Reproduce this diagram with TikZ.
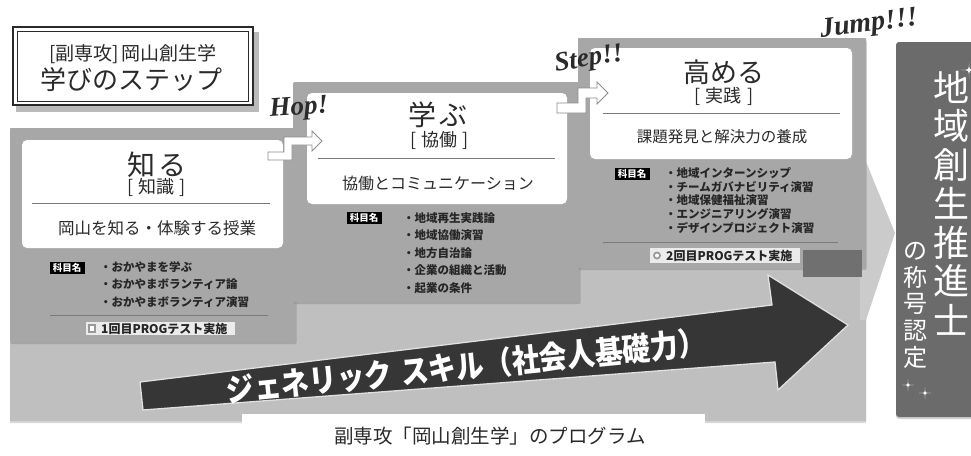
\documentclass[tikz,border=0pt]{standalone}
\usepackage{fontspec}
\usepackage{graphicx}
\usetikzlibrary{shadows}
\newfontfamily\jp{Noto Sans CJK JP}
\newfontfamily\lser{Liberation Serif}
\definecolor{panel}{HTML}{A7A7A7}
\definecolor{bgg}{HTML}{BFBFBF}
\definecolor{chev}{HTML}{CBCBCB}
\definecolor{colm}{HTML}{6B6B6B}
\definecolor{darr}{HTML}{363636}
\definecolor{ink}{HTML}{2A2A2A}
\definecolor{rulec}{HTML}{7A7A7A}
\newcommand{\mysparkle}[3]{\fill[white] (#1,#2-#3) .. controls (#1,#2) .. (#1+#3,#2) .. controls (#1,#2) .. (#1,#2+#3) .. controls (#1,#2) .. (#1-#3,#2) .. controls (#1,#2) .. cycle;}
\newcommand{\brk}[1]{[\hspace{5pt}#1\hspace{5pt}]}
\tikzset{
  panelbox/.style={fill=panel, rounded corners=2pt, drop shadow={shadow xshift=0.6pt, shadow yshift=-2.2pt, opacity=0.4}},
  whitebox/.style={fill=white, rounded corners=5pt},
  seprule/.style={draw=rulec, line width=0.8pt},
  bigtxt/.style={font=\jp\fontsize{#1}{#1}\selectfont},
  itemtxt/.style={font=\jp\bfseries\fontsize{11.5}{11.5}\selectfont, anchor=west, text=black!85},
  kamoku/.style={fill=black, text=white, font=\jp\bfseries\fontsize{9.5}{9.5}\selectfont, minimum width=35pt, minimum height=12pt},
  progbox/.style={fill=black!8},
  progtxt/.style={font=\jp\bfseries\fontsize{12}{12}\selectfont, text=black!85, anchor=west},
  stairarrow/.style={fill=white, draw=black!45, line width=0.9pt, line join=miter},
  shout/.style={font=\lser\bfseries\itshape\fontsize{#1}{#1}\selectfont, text=ink},
  vchar/.style={font=\jp\fontsize{#1}{#1}\selectfont, text=white},
}
\begin{document}
\begin{tikzpicture}[x=1pt,y=-1pt, every node/.style={inner sep=0pt, text=ink}]
\useasboundingbox (0,0) rectangle (971,455);
\fill[white] (0,0) rectangle (971,455);

% background region
\fill[bgg, drop shadow={shadow xshift=0pt, shadow yshift=-2pt, opacity=0.3}] (10,128) -- (295,128) -- (295,82) -- (578,82) -- (578,38) -- (866,38) -- (866,421) -- (10,421) -- cycle;
\fill[chev] (860,147) -- (895,233) -- (866,320) -- (860,320) -- cycle;

% panels
\path[panelbox] (10,128) rectangle (296,342);
\path[panelbox] (293,82) rectangle (580,302);
\path[panelbox] (578,38) rectangle (866,268);

% white boxes
\path[whitebox] (22,140) rectangle (283,248);
\path[whitebox] (307,93) rectangle (567,204);
\path[whitebox] (590,48) rectangle (852,159);

% box 1
\node[bigtxt=28] (k1) at (157,165) {知\hspace{4pt}る};
\node[bigtxt=18] (k1b) at (157,187) {\brk{知識}};
\draw[seprule] (32,203) -- (270,203);
\node[bigtxt=16.5] (k1c) at (157,228) {岡山を知る・体験する授業};
\node[kamoku] (t1) at (67,268) {科目名};
\foreach \t [count=\i from 0] in {おかやまを学ぶ, おかやまボランティア論, おかやまボランティア演習}
  \node[itemtxt] (a\i) at (100,267+17.5*\i) {・\t};
\draw[seprule] (50,315) -- (268,315);
\fill[progbox] (86,322) rectangle (235,335);
\fill[black!40] (88,324) rectangle (96,333);
\fill[white] (90,326) rectangle (94,331);
\node[progtxt] (pg1) at (101,328.5) {1回目PROGテスト実施};

% box 2
\node[bigtxt=28] (k2) at (438,115) {学\hspace{4pt}ぶ};
\node[bigtxt=18] (k2b) at (440,140) {\brk{協働}};
\draw[seprule] (318,158) -- (555,158);
\node[bigtxt=16] (k2c) at (438,183) {協働とコミュニケーション};
\node[kamoku] (t2) at (364,218) {科目名};
\foreach \t [count=\i from 0] in {地域再生実践論, 地域協働演習, 地方自治論, 企業の組織と活動, 起業の条件}
  \node[itemtxt] (b\i) at (403,218+17.5*\i) {・\t};

% box 3
\node[bigtxt=27] (k3) at (724,72) {高める};
\node[bigtxt=18] (k3b) at (724,96) {\brk{実践}};
\draw[seprule] (603,113) -- (840,113);
\node[bigtxt=15.5] (k3c) at (722,137) {課題発見と解決力の養成};
\node[kamoku] (t3) at (632,174) {科目名};
\foreach \t [count=\i from 0] in {地域インターンシップ, チームガバナビリティ演習, 地域保健福祉演習, エンジニアリング演習, デザインプロジェクト演習}
  \node[itemtxt] (c\i) at (665,173+13.8*\i) {・\t};
\draw[seprule] (603,242) -- (838,242);
\fill[progbox] (650,248) rectangle (800,263);
\fill[black!40] (657,255.5) circle (4);
\fill[white] (657,255.5) circle (2);
\node[progtxt] (pg2) at (666,255.5) {2回目PROGテスト実施};
\fill[black!56] (803,250) rectangle (862,277);

% stair arrows
\coordinate (hopS) at (268,152);
\draw[stairarrow] (hopS) -- ++(16,0) -- ++(0,-15) -- ++(28,0) -- ++(0,-6) -- ++(10,10) -- ++(-10,10) -- ++(0,-6) -- ++(-20,0) -- ++(0,15) -- ++(-24,0) -- cycle;
\coordinate (stepS) at (557,103);
\draw[stairarrow] (stepS) -- ++(21,0) -- ++(0,-15) -- ++(19,0) -- ++(0,-6) -- ++(11,11) -- ++(-11,11) -- ++(0,-6) -- ++(-11,0) -- ++(0,15) -- ++(-29,0) -- cycle;

% generic skill arrow
\draw[fill=darr, draw=white!88!black, line width=1.3pt, line join=miter] (140,382) -- (772,305) -- (768,275) -- (848,325) -- (778,390) -- (775,362) -- (143,410) -- cycle;
\node[rotate=5.7, text=white, font=\jp\bfseries\fontsize{32}{32}\selectfont] (gtext) at (466,366) {\scalebox{0.87}[1]{ジェネリック\hspace{10pt}スキル（社会人基礎力）}};

% right column
\path[fill=colm, rounded corners=3pt, drop shadow={shadow xshift=0pt, shadow yshift=-2pt, opacity=0.35}] (896,42) rectangle (980,417);
\foreach \c [count=\i from 0] in {地,域,創,生,推,進,士}
  \node[vchar=36] (v\i) at (951.5,87.5+38.7*\i) {\c};
\foreach \c [count=\i from 0] in {の,称,号,認,定}
  \node[vchar=24] (w\i) at (915,251+26.5*\i) {\c};
\mysparkle{969}{70}{8}
\mysparkle{908}{385}{6}
\mysparkle{925}{393}{6}

% title box
\fill[black!27] (16,32) rectangle (259,112);
\draw[fill=white, draw=ink, line width=1.8pt] (13,27) rectangle (253,105);
\draw[draw=ink, line width=0.6pt] (17.5,31) rectangle (248.5,101);
\node[bigtxt=19] (ttl1) at (133,54) {[副専攻]\hspace{3pt}岡山創生学};
\node[bigtxt=26] (ttl2) at (131,80) {学びのステップ};

% hop step jump
\node[shout=27, rotate=4] (hop) at (299,109) {Hop!};
\node[shout=27, rotate=9] (stp) at (589,60) {Step!!};
\node[shout=28, rotate=7] (jmp) at (869,25) {Jump!!!};

% caption
\fill[white] (242,414) rectangle (705,455);
\node[bigtxt=19.5] (cap) at (490,436) {副専攻「岡山創生学」のプログラム};
\end{tikzpicture}
\end{document}
